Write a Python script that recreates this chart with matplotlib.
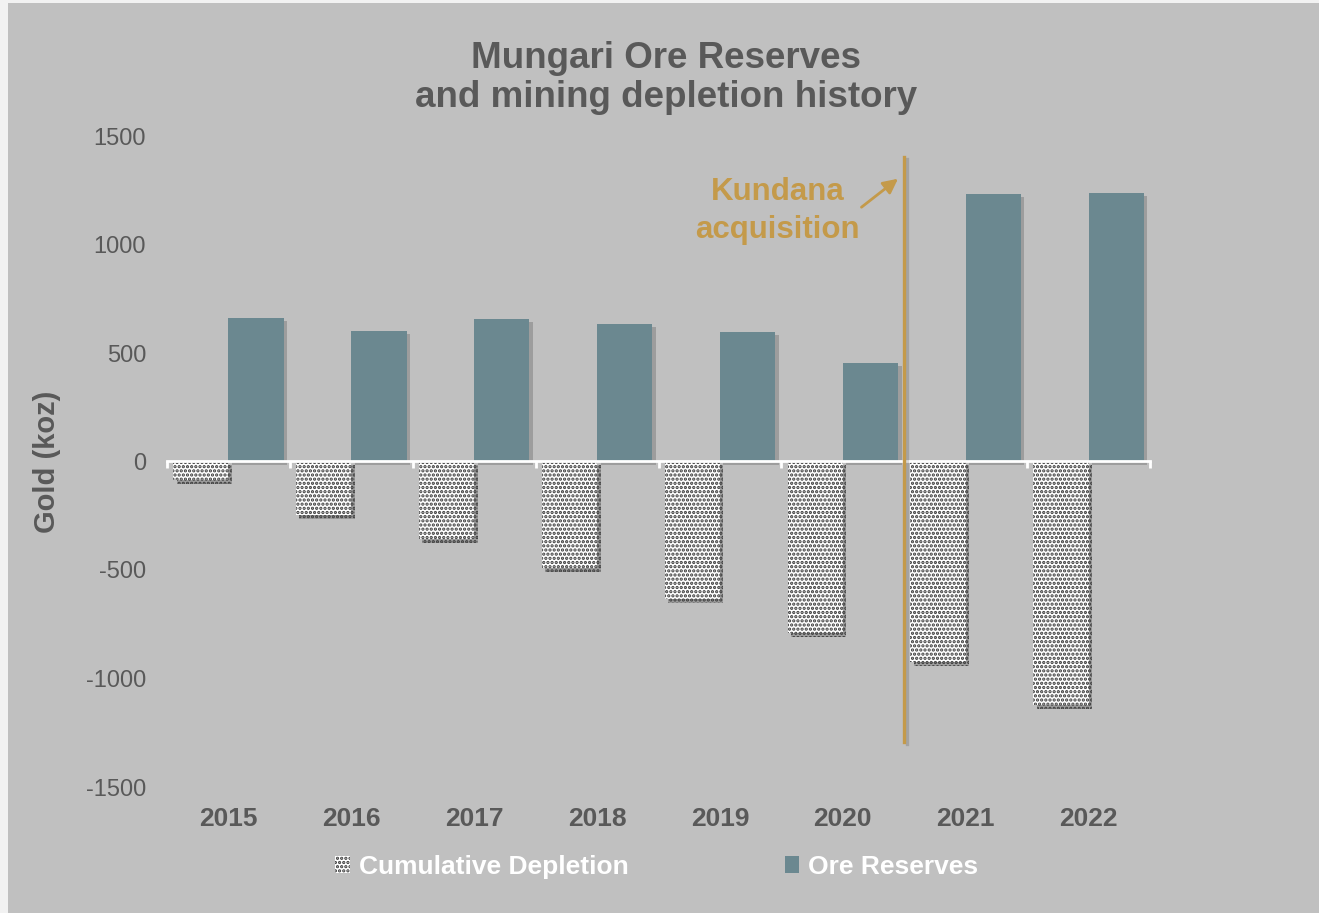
import matplotlib
matplotlib.use("Agg")
import matplotlib.pyplot as plt
import matplotlib.patheffects as pe
import matplotlib.transforms as mtransforms
from matplotlib.patches import Patch, Rectangle

plt.rcParams['font.family'] = ['Liberation Sans', 'DejaVu Sans']
plt.rcParams['hatch.linewidth'] = 1.6

years = ['2015', '2016', '2017', '2018', '2019', '2020', '2021', '2022']
ore_reserves = [663, 603, 658, 635, 598, 456, 1233, 1238]
cum_depletion = [-87, -248, -359, -492, -635, -792, -925, -1123]
yticks = [-1500, -1000, -500, 0, 500, 1000, 1500]

teal = '#6b8890'
gold = '#c49a4a'
txt = '#595959'
bg = '#c0c0c0'

fig = plt.figure(figsize=(13.19, 9.13), dpi=100, facecolor='#f2f2f2')
fig.patches.append(Rectangle((8 / 1319, 0), 1, 1 - 3 / 913, transform=fig.transFigure,
                             facecolor=bg, edgecolor='none', zorder=-10))
ax = fig.add_axes([167 / 1319, 1 - 787 / 913, 983 / 1319, 651 / 913])
ax.set_facecolor('none')

x = list(range(len(years)))
w = 0.45
shadow = [pe.SimplePatchShadow(offset=(2.5, -2.5), shadow_rgbFace='k', alpha=0.18), pe.Normal()]

bars_dep = ax.bar([i - w for i in x], cum_depletion, width=w, align='edge',
                  facecolor='white', edgecolor='#3a3a3a', linewidth=0, hatch='....', zorder=3)
bars_ore = ax.bar(x, ore_reserves, width=w, align='edge', color=teal, linewidth=0, zorder=3)
for b in list(bars_dep) + list(bars_ore):
    b.set_path_effects(shadow)

ax.set_xlim(-0.5, len(years) - 0.5)
ax.set_ylim(-1500, 1500)

# axis line at zero with category separators
for s in ['top', 'right', 'left']:
    ax.spines[s].set_visible(False)
ax.spines['bottom'].set_position(('data', 0))
ax.spines['bottom'].set_color('white')
ax.spines['bottom'].set_linewidth(2)
ax.spines['bottom'].set_zorder(4)
ax.set_xticks(x)
ax.set_xticklabels([])
ax.tick_params(axis='x', which='major', length=0)
ax.set_xticks([i - 0.5 for i in range(len(years) + 1)], minor=True)
ax.tick_params(axis='x', which='minor', length=5, width=2, color='white', direction='out')

trans = mtransforms.blended_transform_factory(ax.transData, ax.transAxes)
for i, yr in zip(x, years):
    ax.text(i, -0.049, yr, transform=trans, ha='center', va='center',
            fontsize=19, fontweight='bold', color=txt)

ax.set_yticks(yticks)
ax.set_yticklabels([str(v) for v in yticks])
ax.tick_params(axis='y', length=0, pad=15, labelsize=17, labelcolor=txt)
ax.set_ylabel('Gold (koz)', fontsize=21, fontweight='bold', color=txt, labelpad=18)

# acquisition marker
ax.plot([5.5, 5.5], [1404, -1293], color=gold, lw=2.4, zorder=5,
        path_effects=[pe.SimpleLineShadow(offset=(2, -1.5), shadow_color='k', alpha=0.15), pe.Normal()])
ax.annotate('', xy=(5.467, 1311), xytext=(5.134, 1164),
            arrowprops=dict(arrowstyle='-|>', color=gold, lw=2, mutation_scale=22))
ax.text(4.467, 1155, 'Kundana\nacquisition', ha='center', va='center', fontsize=22.5,
        fontweight='bold', color=gold, linespacing=1.35)

fig.text(0.505, 1 - 78 / 913, 'Mungari Ore Reserves\nand mining depletion history',
         ha='center', va='center', fontsize=26.5, fontweight='bold', color=txt, linespacing=1.15)

handles = [Patch(facecolor='white', edgecolor='#3a3a3a', linewidth=0, hatch='....'),
           Patch(facecolor=teal, linewidth=0)]
leg = fig.legend(handles, ['Cumulative Depletion', 'Ore Reserves'], ncol=2, frameon=False,
                 loc='center', bbox_to_anchor=(0.498, 1 - 867 / 913), fontsize=19,
                 handlelength=0.55, handleheight=0.6, handletextpad=0.35, columnspacing=5.9)
for t in leg.get_texts():
    t.set_color('white')
    t.set_fontweight('bold')

fig.savefig('out.png', dpi=100, facecolor=fig.get_facecolor())
